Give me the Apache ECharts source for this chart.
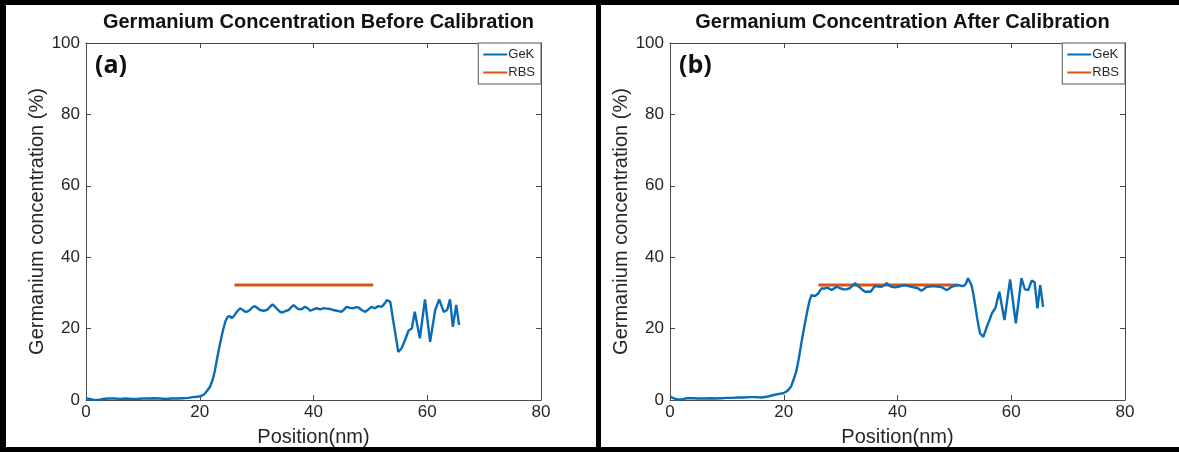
<!DOCTYPE html>
<html>
<head>
<meta charset="utf-8">
<script src="https://cdn.jsdelivr.net/npm/echarts@6/dist/echarts.min.js"></script>
<style>
html,body{margin:0;padding:0;background:#fff;}
#chart{width:1179px;height:452px;}
</style>
</head>
<body>
<div id="chart"></div>
<script>
// ---- Data ----
const panelTitles = ['Germanium Concentration Before Calibration', 'Germanium Concentration After Calibration'];
const panelLabels = ['(a)', '(b)'];
const seriesNames = ['GeK', 'RBS'];
const xTicks = [0, 20, 40, 60, 80];
const yTicks = [0, 20, 40, 60, 80, 100];
const xAxisName = 'Position(nm)';
const yAxisName = 'Germanium concentration (%)';

// GeK before calibration: [position nm, concentration %]
const gekBefore = [
  [0,0.5],[0.6,0.3],[1.2,0.1],[1.8,0.0],[2.4,0.1],[3,0.3],[4,0.4],[5,0.4],[6,0.3],[7,0.4],
  [8,0.3],[9,0.3],[10,0.4],[11,0.4],[12,0.5],[13,0.4],[14,0.3],[15,0.4],[16,0.4],[17,0.5],
  [18,0.6],[18.8,0.8],[19.5,0.9],[20.2,1.1],[20.8,1.6],[21.3,2.6],[21.8,3.7],[22.3,5.8],[22.7,8.5],[23.0,11.2],
  [23.4,14.5],[23.8,17.5],[24.1,19.6],[24.5,22.0],[24.9,23.3],[25.3,23.5],[25.6,22.9],[26.0,23.5],[26.5,24.7],[27.1,25.7],
  [27.5,25.3],[28.0,24.7],[28.4,24.8],[28.8,25.2],[29.2,25.9],[29.7,26.3],[30.2,25.7],[30.6,25.2],[31.2,25.0],[31.8,25.2],
  [32.3,26.0],[32.8,26.8],[33.3,26.0],[33.8,25.2],[34.2,24.6],[34.7,24.6],[35.2,25.0],[35.6,25.2],[36.1,26.0],[36.5,26.6],
  [36.9,26.0],[37.3,25.5],[37.9,25.4],[38.5,26.1],[39.0,25.7],[39.4,25.0],[40.0,25.4],[40.6,25.7],[41.2,25.4],[41.7,25.7],
  [42.3,25.6],[42.9,25.5],[43.5,25.2],[44.1,25.0],[44.5,24.9],[44.9,24.7],[45.4,25.4],[45.8,26.1],[46.4,25.8],[47.0,25.7],
  [47.5,26.0],[47.9,25.9],[48.5,25.2],[49.1,24.7],[49.6,25.3],[50.2,26.1],[50.8,25.7],[51.4,26.3],[52.0,26.1],[52.5,27.0],
  [52.9,28.0],[53.5,27.5],[54.0,22.4],[54.5,17.5],[54.9,13.5],[55.5,14.5],[56.1,16.8],[56.7,19.4],[57.3,20.1],[57.8,24.7],
  [58.7,17.3],[59.6,28.2],[60.5,16.3],[61.4,25.2],[62.1,28.2],[62.9,24.7],[63.5,25.2],[64.0,28.2],[64.5,20.5],[65.1,26.6],
  [65.6,21.0]
];
// GeK after calibration
const gekAfter = [
  [0,1.0],[0.6,0.5],[1.2,0.2],[1.8,0.1],[2.4,0.3],[3,0.5],[4,0.5],[5,0.4],[6,0.4],[7,0.5],
  [8,0.4],[9,0.5],[10,0.6],[11,0.6],[12,0.7],[13,0.7],[14,0.8],[15,0.8],[16,0.7],[17,0.9],
  [18.2,1.4],[19.2,1.7],[19.9,1.9],[20.4,2.3],[20.8,2.8],[21.3,3.8],[21.7,5.6],[22.2,8.0],[22.6,11.2],[23.0,15.0],
  [23.4,18.7],[23.9,23.0],[24.3,26.1],[24.6,28.2],[24.9,29.4],[25.2,29.0],[25.5,29.1],[25.8,29.5],[26.1,29.9],[26.4,30.7],
  [26.7,31.3],[27.1,31.2],[27.6,31.5],[28.0,31.2],[28.4,30.8],[28.8,31.2],[29.3,31.7],[29.9,31.3],[30.5,31.0],[31.0,31.0],
  [31.6,31.3],[32.0,31.9],[32.5,32.7],[33.0,32.0],[33.4,31.5],[33.9,30.8],[34.3,30.3],[34.8,30.4],[35.2,30.3],[35.6,31.0],
  [36.0,31.9],[36.6,31.8],[37.2,31.7],[37.7,32.2],[38.1,32.7],[38.6,32.0],[39.0,31.7],[39.5,31.6],[40.1,31.7],[40.7,32.0],
  [41.3,32.2],[41.9,31.9],[42.5,31.7],[43.0,31.5],[43.6,31.3],[44.2,30.6],[44.6,31.0],[45.1,31.7],[45.7,31.8],[46.3,31.9],
  [46.9,31.8],[47.5,31.7],[48.0,31.4],[48.6,30.8],[49.0,31.1],[49.5,31.7],[50.1,32.0],[50.7,32.2],[51.2,32.0],[51.6,31.9],
  [52.0,32.5],[52.4,34.1],[52.7,34.0],[53.0,32.2],[53.3,30.0],[53.6,27.1],[54.0,23.0],[54.5,18.7],[55.1,17.7],[55.7,20.5],
  [56.2,22.5],[56.6,24.3],[57.2,25.7],[57.9,30.3],[58.8,22.4],[59.8,33.8],[60.8,21.5],[61.8,34.1],[62.4,31.0],[63.0,30.8],
  [63.6,33.5],[64.1,33.0],[64.6,25.7],[65.1,32.2],[65.6,26.1]
];
// RBS reference level
const rbsBefore = [[26.1,32.2],[50.5,32.2]];
const rbsAfter = [[26.1,32.2],[50.6,32.2]];

// ---- Layout / style ----
const W = 1179, H = 452;
const plotW = 455, plotTop = 43, plotBottom = 52;
const panelLeft = [86, 670];
const blue = '#0a6cb5', orange = '#D95319';
const axisColor = '#4a4a4a', textColor = '#262626';
const font = 'Liberation Sans, Arial, sans-serif';

const grids = [], xAxes = [], yAxes = [], titles = [], legends = [], series = [];
const geks = [gekBefore, gekAfter], rbss = [rbsBefore, rbsAfter];

panelLeft.forEach((L, p) => {
  grids.push({left: L, width: plotW, top: plotTop, bottom: plotBottom, containLabel: false});
  const xBase = {gridIndex: p, type: 'value', min: xTicks[0], max: xTicks[xTicks.length-1], interval: 20,
    splitLine: {show: false}, axisLine: {show: true, onZero: false, lineStyle: {color: axisColor, width: 1}},
    axisTick: {show: true, inside: true, length: 5, lineStyle: {color: axisColor}}};
  const yBase = {gridIndex: p, type: 'value', min: yTicks[0], max: yTicks[yTicks.length-1], interval: 20,
    splitLine: {show: false}, axisLine: {show: true, onZero: false, lineStyle: {color: axisColor, width: 1}},
    axisTick: {show: true, inside: true, length: 5, lineStyle: {color: axisColor}}};
  xAxes.push(Object.assign({}, xBase, {position: 'bottom',
    axisLabel: {color: textColor, fontSize: 17, fontFamily: font, margin: 4},
    name: xAxisName, nameLocation: 'middle', nameGap: 27,
    nameTextStyle: {color: textColor, fontSize: 20, fontFamily: font}}));
  xAxes.push(Object.assign({}, xBase, {position: 'top', axisLabel: {show: false}}));
  yAxes.push(Object.assign({}, yBase, {position: 'left',
    axisLabel: {color: textColor, fontSize: 17, fontFamily: font, margin: 6},
    name: yAxisName, nameLocation: 'middle', nameGap: 39,
    nameTextStyle: {color: textColor, fontSize: 20, fontFamily: font}}));
  yAxes.push(Object.assign({}, yBase, {position: 'right', axisLabel: {show: false}}));

  titles.push({text: panelTitles[p], left: L + plotW/2, top: 7, textAlign: 'center',
    textStyle: {fontSize: 20, fontWeight: 'bold', color: '#111', fontFamily: font}});
  titles.push({text: panelLabels[p], left: L + 4, top: 48,
    textStyle: {fontSize: 25, fontWeight: 'bold', color: '#111', fontFamily: 'Open Sans, Lato, sans-serif'}});

  legends.push({data: seriesNames.map(n => ({name: n})), orient: 'vertical',
    right: W - (L + plotW), top: plotTop, icon: 'rect', itemWidth: 24, itemHeight: 2, itemGap: 5,
    padding: [5, 6, 5, 5], borderColor: '#555', borderWidth: 1, backgroundColor: '#fff',
    textStyle: {fontSize: 13, color: textColor, fontFamily: font, padding: [0, 0, 0, -4]}});

  series.push({name: seriesNames[0], type: 'line', xAxisIndex: 2*p, yAxisIndex: 2*p, data: geks[p],
    showSymbol: false, symbol: 'none', lineStyle: {color: blue, width: 2.4}, itemStyle: {color: blue}, z: 3});
  series.push({name: seriesNames[1], type: 'line', xAxisIndex: 2*p, yAxisIndex: 2*p, data: rbss[p],
    showSymbol: false, symbol: 'none', lineStyle: {color: orange, width: 3}, itemStyle: {color: orange}, z: 2});
});

const chart = echarts.init(document.getElementById('chart'), null, {renderer: 'canvas'});
chart.setOption({
  animation: false,
  backgroundColor: '#fff',
  title: titles,
  legend: legends,
  grid: grids,
  xAxis: xAxes,
  yAxis: yAxes,
  series: series,
  graphic: [
    {type: 'rect', shape: {x: 0, y: 0, width: 6, height: H}, style: {fill: '#000'}, silent: true},
    {type: 'rect', shape: {x: 0, y: 0, width: W, height: 5}, style: {fill: '#000'}, silent: true},
    {type: 'rect', shape: {x: 0, y: H - 5, width: W, height: 5}, style: {fill: '#000'}, silent: true},
    {type: 'rect', shape: {x: 596, y: 0, width: 5, height: H}, style: {fill: '#000'}, silent: true}
  ]
});
</script>
</body>
</html>
